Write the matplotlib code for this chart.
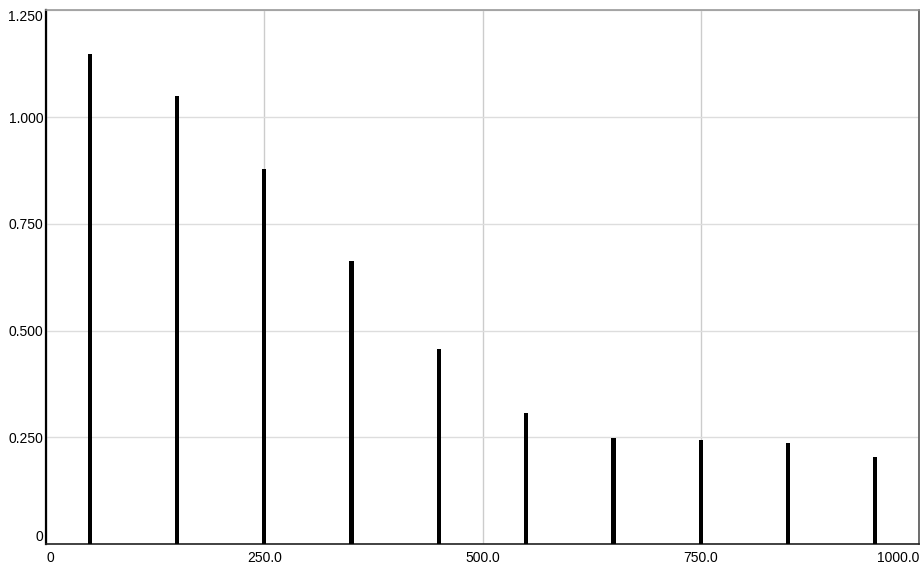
import matplotlib.pyplot as plt

# bin centres and heights
centers = [50, 150, 250, 350, 450, 550, 650, 750, 850, 950]
heights = [1.148, 1.050, 0.878, 0.664, 0.458, 0.307, 0.248, 0.244, 0.236, 0.204]

xticks = [0, 250, 500, 750, 1000]
xlabels = ["0", "250.0", "500.0", "750.0", "1000.0"]
yticks = [0, 0.25, 0.5, 0.75, 1.0, 1.25]
ylabels = ["0", "0.250", "0.500", "0.750", "1.000", "1.250"]

plt.rcParams["font.family"] = ["Liberation Sans", "DejaVu Sans"]

fig = plt.figure(figsize=(9.22, 5.68), dpi=100)
ax = fig.add_axes([46 / 922, 1 - 544 / 568, 873 / 922, 533.5 / 568])

ax.bar(centers, heights, width=4.8, color="black", zorder=3)

ax.set_xlim(0, 1000)
ax.set_ylim(0, 1.25)
ax.set_xticks(xticks)
ax.set_xticklabels(xlabels)
ax.set_yticks(yticks)
ax.set_yticklabels(ylabels)

ax.grid(axis="x", color="#cccccc", linewidth=1.0, zorder=0)
ax.grid(axis="y", color="#dddddd", linewidth=1.0, zorder=0)
ax.tick_params(length=0, labelsize=10, colors="black")
ax.tick_params(axis="x", pad=5)
ax.tick_params(axis="y", pad=2)

# keep the end labels inside the frame
xl = ax.get_xticklabels()
xl[0].set_horizontalalignment("left")
xl[-1].set_horizontalalignment("right")
yl = ax.get_yticklabels()
yl[0].set_verticalalignment("bottom")
yl[-1].set_verticalalignment("top")

ax.spines["left"].set_color("black")
ax.spines["left"].set_linewidth(1.6)
ax.spines["bottom"].set_color("#222222")
ax.spines["bottom"].set_linewidth(1.2)
ax.spines["top"].set_color("#999999")
ax.spines["top"].set_linewidth(1.2)
ax.spines["right"].set_color("#555555")
ax.spines["right"].set_linewidth(1.2)

fig.savefig("out.png", dpi=100)
